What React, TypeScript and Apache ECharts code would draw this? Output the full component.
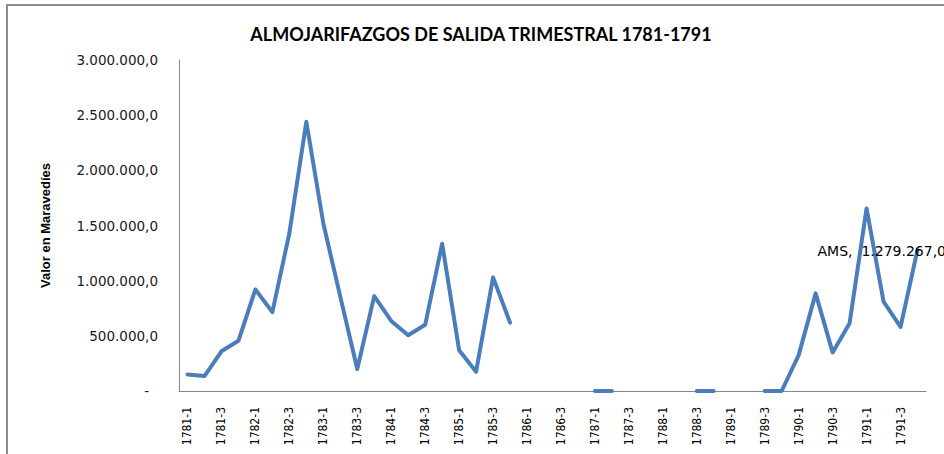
import React, { useEffect, useRef } from "react";
import * as echarts from "echarts";

const title = "ALMOJARIFAZGOS DE SALIDA TRIMESTRAL 1781-1791";
const yAxisName = "Valor en Maravedíes";
const seriesName = "AMS";

const categories = [
  "1781-1", "1781-2", "1781-3", "1781-4",
  "1782-1", "1782-2", "1782-3", "1782-4",
  "1783-1", "1783-2", "1783-3", "1783-4",
  "1784-1", "1784-2", "1784-3", "1784-4",
  "1785-1", "1785-2", "1785-3", "1785-4",
  "1786-1", "1786-2", "1786-3", "1786-4",
  "1787-1", "1787-2", "1787-3", "1787-4",
  "1788-1", "1788-2", "1788-3", "1788-4",
  "1789-1", "1789-2", "1789-3", "1789-4",
  "1790-1", "1790-2", "1790-3", "1790-4",
  "1791-1", "1791-2", "1791-3", "1791-4",
];

const values: (number | null)[] = [
  150000, 135000, 360000, 455000,
  920000, 715000, 1430000, 2440000,
  1520000, 855000, 200000, 860000,
  635000, 505000, 600000, 1335000,
  370000, 175000, 1030000, 620000,
  null, null, null, null,
  0, 0, null, null,
  null, null, 0, 0,
  null, null, 0, 0,
  325000, 885000, 350000, 615000,
  1655000, 810000, 580000, 1279267,
];

const labelledIndex = 43;

function fmt(v: number): string {
  const s = Math.round(v).toString().replace(/\B(?=(\d{3})+(?!\d))/g, ".");
  return s + ",0";
}

export default function App() {
  const ref = useRef<HTMLDivElement>(null);
  useEffect(() => {
    if (!ref.current) return;
    const chart = echarts.init(ref.current, undefined, { renderer: "svg" });
    const data = values.map((v, i) =>
      i === labelledIndex && v !== null
        ? {
            value: v,
            symbol: "circle",
            symbolSize: 1,
            label: {
              show: true,
              position: "inside",
              align: "left",
              verticalAlign: "middle",
              offset: [-100, 1],
              formatter: () => `${seriesName},  ${fmt(v)}`,
              fontFamily: "DejaVu Sans",
              fontSize: 14,
              color: "#000",
            },
          }
        : { value: v, symbol: "none" }
    );
    chart.setOption({
      animation: false,
      backgroundColor: "#fff",
      title: {
        text: title,
        left: 476,
        textAlign: "center",
        top: 20,
        textStyle: {
          fontFamily: "Lato",
          fontWeight: "bold",
          fontSize: 18,
          color: "#000",
        },
      },
      graphic: [
        {
          type: "rect",
          shape: { x: 7, y: 5, width: 1200, height: 1000 },
          style: { fill: "none", stroke: "#8c8c8c", lineWidth: 2 },
          silent: true,
        },
      ],
      grid: { left: 179, top: 60, right: 18, bottom: 63, containLabel: false },
      xAxis: {
        type: "category",
        data: categories,
        boundaryGap: true,
        axisLine: { show: true, lineStyle: { color: "#868686", width: 1 } },
        axisTick: { show: false },
        axisLabel: {
          interval: 1,
          rotate: 90,
          margin: 16,
          fontFamily: "'Liberation Sans Narrow', 'DejaVu Sans Condensed', sans-serif",
          fontSize: 12,
          color: "#000",
        },
        splitLine: { show: false },
      },
      yAxis: {
        type: "value",
        min: 0,
        max: 3000000,
        interval: 500000,
        name: yAxisName,
        nameLocation: "middle",
        nameGap: 127,
        nameTextStyle: {
          fontFamily: "Liberation Sans",
          fontWeight: "bold",
          fontSize: 13,
          color: "#000",
        },
        axisLine: { show: true, lineStyle: { color: "#868686", width: 1 } },
        axisTick: { show: false },
        splitLine: { show: false },
        axisLabel: {
          margin: 21,
          fontFamily: "DejaVu Sans",
          fontSize: 13.5,
          color: "#1a1a1a",
          formatter: (v: number) => (v === 0 ? "{z|-}" : fmt(v)),
          rich: {
            z: { padding: [0, 9, 0, 0], fontFamily: "DejaVu Sans", fontSize: 13.5, color: "#1a1a1a" },
          },
        },
      },
      series: [
        {
          name: seriesName,
          type: "line",
          data,
          connectNulls: false,
          smooth: false,
          showSymbol: true,
          symbol: "none",
          lineStyle: { color: "#4a7ebb", width: 4, cap: "round", join: "round" },
          itemStyle: { color: "#4a7ebb" },
          emphasis: { disabled: true },
        },
      ],
    });
    return () => chart.dispose();
  }, []);
  return (
    <div
      ref={ref}
      style={{ position: "fixed", left: 0, top: 0, width: 944, height: 454 }}
    />
  );
}
